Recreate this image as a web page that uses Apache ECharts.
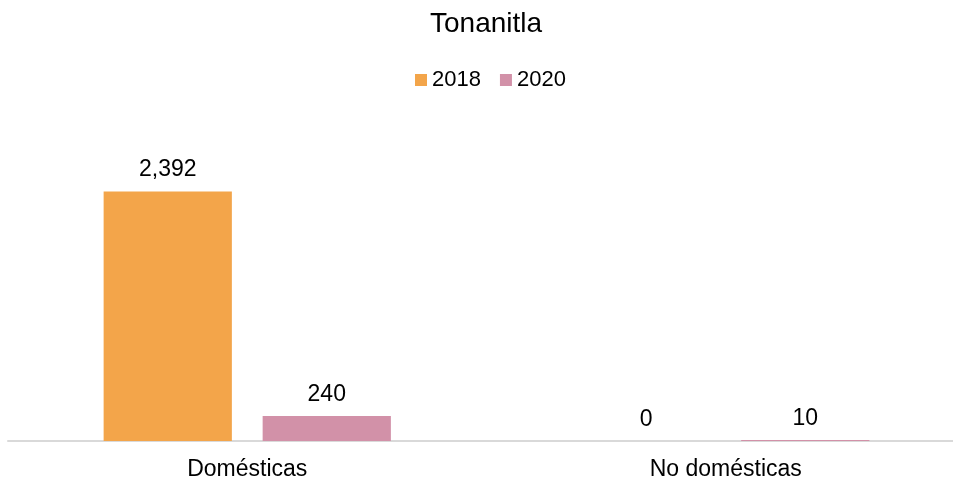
<!DOCTYPE html>
<html><head><meta charset="utf-8">
<script src="https://cdn.jsdelivr.net/npm/echarts@6/dist/echarts.min.js"></script>
<style>html,body{margin:0;padding:0;background:#fff}#c{width:953px;height:481px}</style>
</head><body><div id="c"></div>
<script>
const categories = ['Domésticas', 'No domésticas'];
const seriesNames = ['2018', '2020'];
const values2018 = [2392, 0];
const values2020 = [240, 10];
const colors = ['#F3A54A', '#D291A8'];
const FONT = '"Liberation Sans", Arial, sans-serif';
const chart = echarts.init(document.getElementById('c'));
const lbl = {show: true, position: 'top', distance: 10, color: '#000', fontSize: 23, fontFamily: FONT,
  formatter: p => p.value.toLocaleString('en-US')};
chart.setOption({
  animation: false,
  title: {text: 'Tonanitla', left: 425, top: 5, textStyle: {fontSize: 28, fontWeight: 'normal', color: '#000', fontFamily: FONT}},
  legend: {top: 64, left: 410, itemWidth: 12, itemHeight: 12, itemGap: 19, icon: 'rect',
    textStyle: {fontSize: 22, color: '#000', fontFamily: FONT}},
  grid: {left: 8, width: 957, top: 128, bottom: 40, containLabel: false, outerBoundsMode: 'none'},
  xAxis: {type: 'category', data: categories, axisTick: {show: false},
    axisLine: {lineStyle: {color: '#D9D9D9', width: 2}},
    axisLabel: {fontSize: 23, color: '#000', fontFamily: FONT, margin: 17}},
  yAxis: {type: 'value', min: 0, max: 3000, show: false, splitLine: {show: false}},
  series: [
    {name: seriesNames[0], type: 'bar', data: values2018, barWidth: '26.8%', barGap: '24%', itemStyle: {color: colors[0]}, label: lbl},
    {name: seriesNames[1], type: 'bar', data: values2020, barWidth: '26.8%', itemStyle: {color: colors[1]}, label: lbl}
  ]
});
</script></body></html>
